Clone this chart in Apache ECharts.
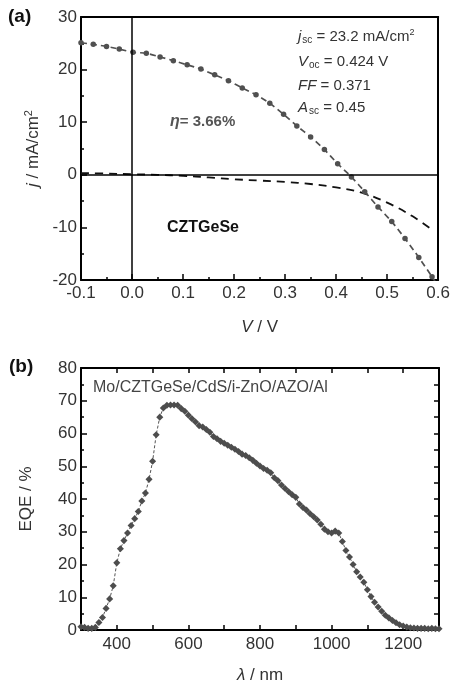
<!DOCTYPE html>
<html>
<head>
<meta charset="utf-8">
<script src="https://cdn.jsdelivr.net/npm/echarts@6/dist/echarts.min.js"></script>
<style>
html,body{margin:0;padding:0;background:#fff;}
#chart{width:453px;height:689px;}
</style>
</head>
<body>
<div id="chart"></div>
<script>
// (a) J-V, light
var vLight=[-0.1,-0.076,-0.05,-0.025,0.002,0.028,0.055,0.081,0.108,0.135,0.162,0.189,0.216,0.243,
            0.270,0.297,0.323,0.350,0.377,0.403,0.430,0.456,0.482,0.509,0.535,0.562,0.588,0.614];
var jLight=[25.1,24.8,24.4,23.9,23.3,23.1,22.4,21.7,20.9,20.1,19.0,17.9,16.5,15.2,
            13.6,11.5,9.3,7.2,4.8,2.1,-0.4,-3.2,-6.1,-8.9,-12.1,-15.7,-19.4,-23.3];
// (a) J-V, dark
var vDark=[-0.1,-0.05,0,0.05,0.1,0.15,0.2,0.25,0.3,0.35,0.4,0.45,0.5,0.55,0.59];
var jDark=[0.3,0.25,0.1,0,-0.2,-0.5,-0.85,-1.1,-1.35,-1.75,-2.4,-3.4,-5.3,-7.9,-10.6];
// (b) EQE, 300..1300 nm every 10 nm
var lambda=[];
for(var k=300;k<=1300;k+=10){lambda.push(k);}
var eqe=[1.0,0.8,0.5,0.5,0.8,2.3,3.8,6.6,9.5,13.5,
         20.5,24.8,27.3,29.6,31.9,34.0,36.2,39.4,41.8,46.0,
         51.5,59.6,65.0,67.8,68.6,68.7,68.7,68.6,67.6,66.8,
         65.6,64.5,63.5,62.4,62.0,61.2,60.4,59.1,58.4,57.6,
         57.0,56.4,55.8,55.2,54.5,53.7,53.3,52.6,51.8,50.9,
         50.1,49.3,48.8,48.0,46.5,45.6,44.3,43.2,42.2,41.3,
         40.5,38.5,37.4,36.6,35.5,34.6,33.6,32.3,30.8,30.0,
         29.6,30.2,29.6,27.0,24.3,22.3,20.0,17.8,16.2,14.6,
         12.3,10.2,8.5,7.0,5.7,4.5,3.7,2.9,2.2,1.6,
         1.2,0.9,0.7,0.6,0.5,0.5,0.5,0.4,0.5,0.4,0.4];
var xTicksB=[400,600,800,1000,1200];
var params=['{i|j}{sub|sc} = 23.2 mA/cm{sup|2}','{i|V}{sub|oc} = 0.424 V','{i|FF} = 0.371','{i|A}{sub|sc} = 0.45'];

function zip(a,b){
	var out=[];
	for(var i=0;i<a.length;i++){out.push([a[i],b[i]]);}
	return out;
}

var frame={onZero:false,lineStyle:{color:'#000',width:2}};
var tick={inside:true,length:6,lineStyle:{color:'#000',width:1.5}};
var richTxt={
	i:{fontStyle:'italic',fontSize:15,fill:'#333',color:'#333'},
	sub:{fontSize:10,verticalAlign:'bottom',padding:[7,0,0,1],fill:'#333',color:'#333'},
	sup:{fontSize:9,verticalAlign:'top',padding:[0,0,8,0],fill:'#333',color:'#333'}
};

var option={
	backgroundColor:'#fff',
	animation:false,
	textStyle:{fontFamily:'Liberation Sans, Arial'},
	grid:[
		{left:81,right:14,top:17,height:263},
		{left:81,right:14,top:368,height:262}
	],
	xAxis:[
		{
			gridIndex:0,type:'value',min:-0.1,max:0.6,interval:0.1,position:'bottom',
			axisLine:frame,axisTick:tick,
			minorTick:{show:true,splitNumber:2,length:3,lineStyle:{color:'#000',width:1.5}},
			axisLabel:{fontSize:17,color:'#333',margin:5,formatter:function(v){return v.toFixed(1);}},
			splitLine:{show:false},
			name:'{i|V} / V',nameLocation:'middle',nameGap:39,
			nameTextStyle:{fontSize:17,color:'#333',rich:{i:{fontStyle:'italic',fontSize:17,color:'#333'}}}
		},
		{
			gridIndex:0,type:'value',min:-0.1,max:0.6,position:'top',
			axisLine:frame,axisTick:{show:false},axisLabel:{show:false},splitLine:{show:false}
		},
		{
			gridIndex:1,type:'value',min:300,max:1300,interval:100,position:'bottom',
			axisLine:frame,
			axisTick:{inside:true,length:5,lineStyle:{color:'#000',width:1.5}},
			axisLabel:{fontSize:17,color:'#333',margin:6,showMinLabel:false,showMaxLabel:false,
				formatter:function(v){return xTicksB.indexOf(v)>=0?String(v):'';}},
			splitLine:{show:false},
			name:'{i|λ} / nm',nameLocation:'middle',nameGap:37,
			nameTextStyle:{fontSize:17,color:'#333',rich:{i:{fontStyle:'italic',fontSize:17,color:'#333'}}}
		},
		{
			gridIndex:1,type:'value',min:300,max:1300,interval:100,position:'top',
			axisLine:frame,
			axisTick:{inside:true,length:5,lineStyle:{color:'#000',width:1.5}},
			axisLabel:{show:false},splitLine:{show:false}
		}
	],
	yAxis:[
		{
			gridIndex:0,type:'value',min:-20,max:30,interval:10,position:'left',
			axisLine:frame,axisTick:tick,
			minorTick:{show:true,splitNumber:2,length:3,lineStyle:{color:'#000',width:1.5}},
			axisLabel:{fontSize:17,color:'#333',margin:4},
			splitLine:{show:false},
			name:'{i|j} / mA/cm{sup|2}',nameLocation:'middle',nameGap:34,
			nameTextStyle:{fontSize:17,color:'#333',rich:{
				i:{fontStyle:'italic',fontSize:17,color:'#333'},
				sup:{fontSize:11,color:'#333',verticalAlign:'top',padding:[0,0,9,0]}
			}}
		},
		{
			gridIndex:0,type:'value',min:-20,max:30,position:'right',
			axisLine:frame,axisTick:{show:false},axisLabel:{show:false},splitLine:{show:false}
		},
		{
			gridIndex:1,type:'value',min:0,max:80,interval:10,position:'left',
			axisLine:frame,axisTick:tick,
			minorTick:{show:true,splitNumber:2,length:3,lineStyle:{color:'#000',width:1.5}},
			axisLabel:{fontSize:17,color:'#333',margin:4},
			splitLine:{show:false},
			name:'EQE / %',nameLocation:'middle',nameGap:46,
			nameTextStyle:{fontSize:17,color:'#333'}
		},
		{
			gridIndex:1,type:'value',min:0,max:80,interval:5,position:'right',
			axisLine:frame,
			axisTick:{inside:true,length:5,lineStyle:{color:'#000',width:1.5}},
			axisLabel:{show:false},splitLine:{show:false}
		}
	],
	series:[
		{
			name:'dark',type:'line',xAxisIndex:0,yAxisIndex:0,
			data:zip(vDark,jDark),showSymbol:false,smooth:0.4,
			lineStyle:{color:'#111',width:1.8,type:[8,6]},
			markLine:{
				silent:true,symbol:'none',label:{show:false},
				lineStyle:{color:'#000',width:1.5,type:'solid'},
				data:[{xAxis:0},{yAxis:0}]
			}
		},
		{
			name:'light',type:'line',xAxisIndex:0,yAxisIndex:0,
			data:zip(vLight,jLight),smooth:0.2,
			symbol:'circle',symbolSize:5.5,
			itemStyle:{color:'#505050'},
			lineStyle:{color:'#505050',width:1.7,type:[6,4]}
		},
		{
			name:'EQE',type:'line',xAxisIndex:2,yAxisIndex:2,
			data:zip(lambda,eqe),
			symbol:'rect',symbolSize:5,symbolRotate:45,
			itemStyle:{color:'#4d4d4d'},
			lineStyle:{color:'#555',width:1,type:[3,2]}
		}
	],
	graphic:[
		{type:'text',left:8,top:7,style:{text:'(a)',fontSize:19,fontWeight:'bold',fill:'#111',fontFamily:'Liberation Sans, Arial'}},
		{type:'text',left:9,top:357,style:{text:'(b)',fontSize:19,fontWeight:'bold',fill:'#111',fontFamily:'Liberation Sans, Arial'}},
		{type:'text',left:298,top:28,style:{text:params[0],fontSize:15,fill:'#333',rich:richTxt,fontFamily:'Liberation Sans, Arial'}},
		{type:'text',left:298,top:54,style:{text:params[1],fontSize:15,fill:'#333',rich:richTxt,fontFamily:'Liberation Sans, Arial'}},
		{type:'text',left:298,top:78,style:{text:params[2],fontSize:15,fill:'#333',rich:richTxt,fontFamily:'Liberation Sans, Arial'}},
		{type:'text',left:298,top:100,style:{text:params[3],fontSize:15,fill:'#333',rich:richTxt,fontFamily:'Liberation Sans, Arial'}},
		{type:'text',left:170,top:114,style:{text:'{i|η}= 3.66%',fontSize:15,fontWeight:'bold',fill:'#555',
			rich:{i:{fontStyle:'italic',fontWeight:'bold',fontSize:16,fill:'#555',color:'#555'}},fontFamily:'Liberation Sans, Arial'}},
		{type:'text',left:167,top:220,style:{text:'CZTGeSe',fontSize:16,fontWeight:'bold',fill:'#111',fontFamily:'Liberation Sans, Arial'}},
		{type:'text',left:93,top:380,style:{text:'Mo/CZTGeSe/CdS/i-ZnO/AZO/Al',fontSize:16,fill:'#444',fontFamily:'Liberation Sans, Arial'}}
	]
};

var mychart=echarts.init(document.getElementById('chart'),null,{renderer:'canvas'});
mychart.setOption(option);
</script>
</body>
</html>
